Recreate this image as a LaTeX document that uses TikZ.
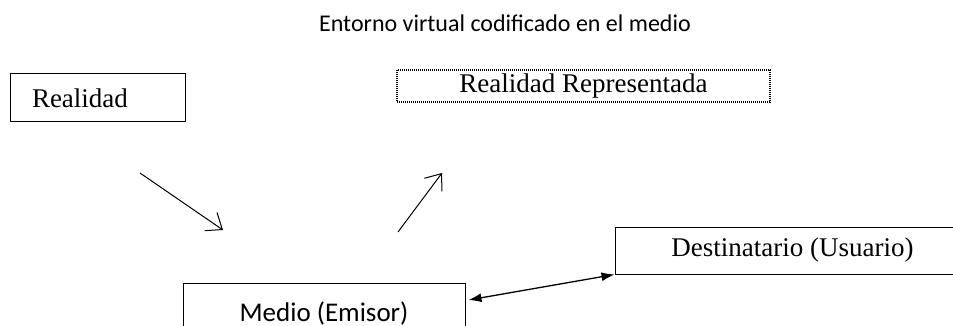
\documentclass[tikz,border=0pt]{standalone}
\usepackage{fontspec}
\setmainfont{Liberation Serif}
\newfontfamily\calfont{Carlito}
\usetikzlibrary{arrows.meta}
\tikzset{
  boxstyle/.style={draw, line width=1pt, inner sep=0pt, font=\fontsize{27}{31}\selectfont},
  sanstext/.style={font=\calfont\fontsize{24}{28}\selectfont},
  medtext/.style={font=\calfont\fontsize{27}{31}\selectfont},
  barb/.style={line width=1pt, -{Straight Barb[length=14pt,width=22pt,line width=1pt]}},
  dbl/.style={line width=1.3pt, {Latex[length=13pt,width=9pt]}-{Latex[length=13pt,width=9pt]}}
}
\begin{document}
\begin{tikzpicture}[x=1pt,y=-1pt]
\useasboundingbox (0,0) rectangle (953,326);
\node[sanstext] (title) at (505,23) {Entorno virtual codificado en el medio};
\node[boxstyle, minimum width=175pt, minimum height=48pt, text width=131pt, inner xsep=22pt, align=left] (real) at (97.5,98) {Realidad};
\node[boxstyle, densely dotted, line width=1.3pt, minimum width=373pt, minimum height=32pt] (rep) at (583.5,86) {Realidad Representada};
\node[boxstyle, medtext, minimum width=282pt, minimum height=60pt] (medio) at (324,313) {Medio (Emisor)};
\node[boxstyle, minimum width=355pt, minimum height=47pt] (dest) at (792.5,250.5) {Destinatario (Usuario)};
\coordinate (a1s) at (140,173);
\coordinate (a1e) at (223,230);
\coordinate (a2s) at (398,232);
\coordinate (a2e) at (442,173);
\draw[barb] (a1s) -- (a1e);
\draw[barb] (a2s) -- (a2e);
\draw[dbl] ([shift={(3,-13)}]medio.east) -- (dest.south west);
\end{tikzpicture}
\end{document}
